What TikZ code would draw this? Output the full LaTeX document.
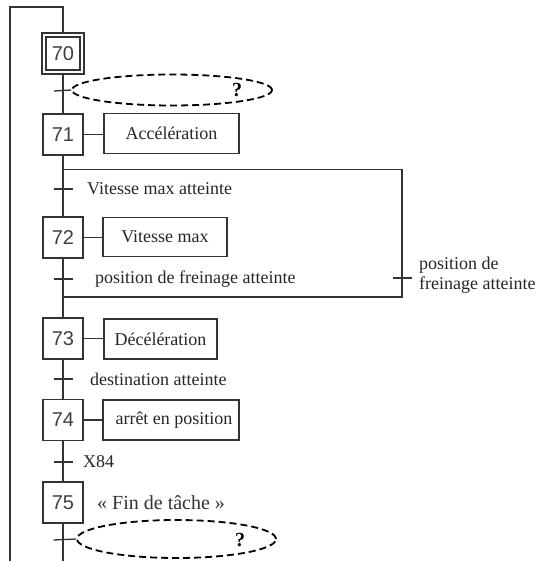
\documentclass[tikz,border=0pt]{standalone}
\usepackage{fontspec}
\setmainfont{Liberation Serif}
\newfontfamily\numfont{Liberation Sans}
\usetikzlibrary{calc,shapes.geometric}
\begin{document}
\begin{tikzpicture}[x=1pt,y=-1pt,
  wire/.style={line width=1.3pt, draw=black!80},
  stepbox/.style={draw=black!80, line width=1.2pt, minimum width=40pt, minimum height=41pt, inner sep=0pt, fill=white, text=black!75, font=\numfont\fontsize{20}{20}\selectfont},
  initstep/.style={stepbox, double, double distance=2.8pt, minimum width=38pt, minimum height=37pt},
  actbox/.style={draw=black!80, line width=1.2pt, inner sep=0pt, text=black!85, font=\fontsize{18}{20}\selectfont},
  lbl/.style={anchor=west, inner sep=0pt, text=black!85, font=\fontsize{18}{20}\selectfont},
  ell/.style={draw=black, ellipse, dash pattern=on 7pt off 4pt, line width=1.8pt, inner sep=0pt},
  qm/.style={inner sep=0pt, font=\bfseries\fontsize{20}{20}\selectfont}
]
\useasboundingbox (0,0) rectangle (540,561);

% coordinates of the rails
\coordinate (lefttop) at (10,7);
\coordinate (leftbot) at (10,561);
\coordinate (top) at (63,7);
\coordinate (bot) at (63,561);

% steps
\node[initstep] (s70) at (63,53.5) {70};
\node[stepbox] (s71) at (63,134.5) {71};
\node[stepbox] (s72) at (63,237.5) {72};
\node[stepbox] (s73) at (63,338.5) {73};
\node[stepbox] (s74) at (63,420) {74};
\node[stepbox] (s75) at (63,502.5) {75};

% actions
\node[actbox, minimum width=135pt, minimum height=40pt] (a71) at (171.5,133.5) {Accélération};
\node[actbox, minimum width=124pt, minimum height=39pt] (a72) at (165,237) {Vitesse max};
\node[actbox, minimum width=113pt, minimum height=40pt] (a73) at (160.5,339) {Décélération};
\node[actbox, minimum width=136pt, minimum height=40pt] (a74) at (171,420) {\hspace*{6pt}arrêt en position};

% main line
\draw[wire] (leftbot) -- (lefttop) -- (top) -- (s70);
\draw[wire] (s70) -- (s71);
\draw[wire] (s71) -- (s72);
\draw[wire] (s72) -- (s73);
\draw[wire] (s73) -- (s74);
\draw[wire] (s74) -- (s75);
\draw[wire] (s75) -- (bot);

% step-action links
\draw[wire] (s71.east) -- (s71.east -| a71.west);
\draw[wire] (s72.east) -- (s72.east -| a72.west);
\draw[wire] (s73.east) -- (s73.east -| a73.west);
\draw[wire] (s74.east) -- (s74.east -| a74.west);

% jump branch
\coordinate (b1) at (63,169.5);
\coordinate (b2) at (402,169.5);
\coordinate (b3) at (402,297);
\coordinate (b4) at (63,297);
\draw[wire] (b1) -- (b2) -- (b3) -- (b4);

% transitions
\coordinate (t1) at (63,91);
\coordinate (t2) at (63,189);
\coordinate (t3) at (63,279);
\coordinate (t4) at (63,379);
\coordinate (t5) at (63,462);
\coordinate (t6) at (63,540);
\coordinate (tr) at (402,278);

\node[ell, minimum width=200pt, minimum height=31pt] (e1) at (172,90) {};
\node[qm] (q1) at (237,90) {?};
\node[ell, minimum width=199pt, minimum height=38pt] (e2) at (176.5,539) {};
\node[qm] (q2) at (240,540) {?};

\draw[wire] ($(t1)+(-9,0)$) -- (e1.west);
\draw[wire] ($(t2)+(-9.5,0)$) -- ($(t2)+(9.5,0)$);
\draw[wire] ($(t3)+(-9.5,0)$) -- ($(t3)+(9.5,0)$);
\draw[wire] ($(t4)+(-9.5,0)$) -- ($(t4)+(9.5,0)$);
\draw[wire] ($(t5)+(-9.5,0)$) -- ($(t5)+(9.5,0)$);
\draw[wire] ($(t6)+(-9.5,0)$) -- (e2.west);
\draw[wire] ($(tr)+(-9.5,0)$) -- ($(tr)+(9.5,0)$);

% receptivities
\node[lbl] (r2) at (87,189) {Vitesse max atteinte};
\node[lbl] (r3) at (95,279) {position de freinage atteinte};
\node[lbl] (r4) at (90,379) {destination atteinte};
\node[lbl] (r5) at (83,462) {X84};
\node[lbl, align=left, font=\fontsize{18}{19.5}\selectfont] (rr) at (419,275) {position de\\freinage atteinte};

% comment
\node[lbl, font=\fontsize{20}{22}\selectfont, text=black!80] (fin) at (97,503) {« Fin de tâche »};
\end{tikzpicture}
\end{document}
